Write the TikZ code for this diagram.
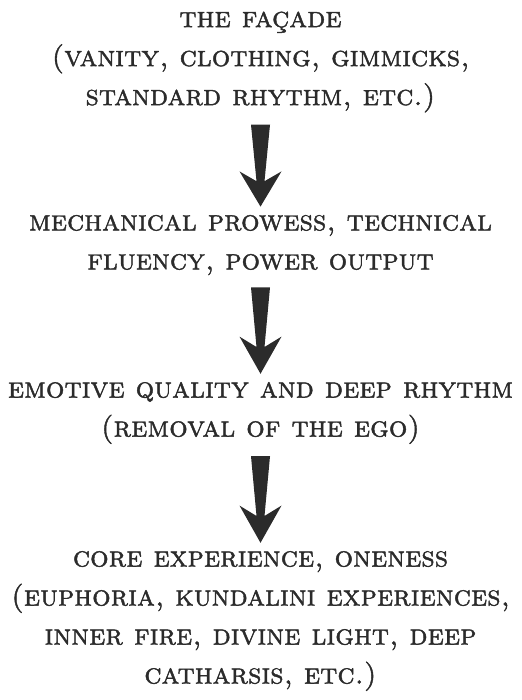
\documentclass[tikz,border=0pt]{standalone}
\usepackage{fontspec}
\usetikzlibrary{calc}
\newfontfamily\capsfont{lmromancaps10-regular.otf}[FakeBold=1.4]
\definecolor{ink}{HTML}{2B2B2B}
\tikzset{
	stage/.style={align=center,text=ink,inner sep=0pt,
		font=\capsfont\fontsize{16.6}{22.2}\selectfont},
	arrowfill/.style={fill=ink}
}
\begin{document}
\begin{tikzpicture}[x=0.02cm,y=-0.02cm]
	\useasboundingbox (0,0) rectangle (521,700);
	\node[stage] (facade) at (260.5,62) {the façade\\(vanity, clothing, gimmicks,\\standard rhythm, etc.)};
	\node[stage] (prowess) at (260.5,245) {mechanical prowess, technical\\fluency, power output};
	\node[stage] (emotive) at (260.5,413) {emotive quality and deep rhythm\\(removal of the ego)};
	\node[stage] (core) at (260.5,621) {core experience, oneness\\(euphoria, kundalini experiences,\\inner fire, divine light, deep\\catharsis, etc.)};
	\foreach \a/\b in {facade/prowess,prowess/emotive,emotive/core}{
		\coordinate (t) at ($(\a.south)+(0,12)$);
		\coordinate (p) at ($(\b.north)+(0,-8)$);
		\fill[arrowfill] ($(t)+(-9.5,0)$) -- ($(t)+(9.5,0)$) -- ($(t)!0.69!(p)+(4,0)$) -- ($(t)!0.57!(p)+(21,0)$) -- (p) -- ($(t)!0.57!(p)+(-21,0)$) -- ($(t)!0.69!(p)+(-4,0)$) -- cycle;
	}
\end{tikzpicture}
\end{document}
